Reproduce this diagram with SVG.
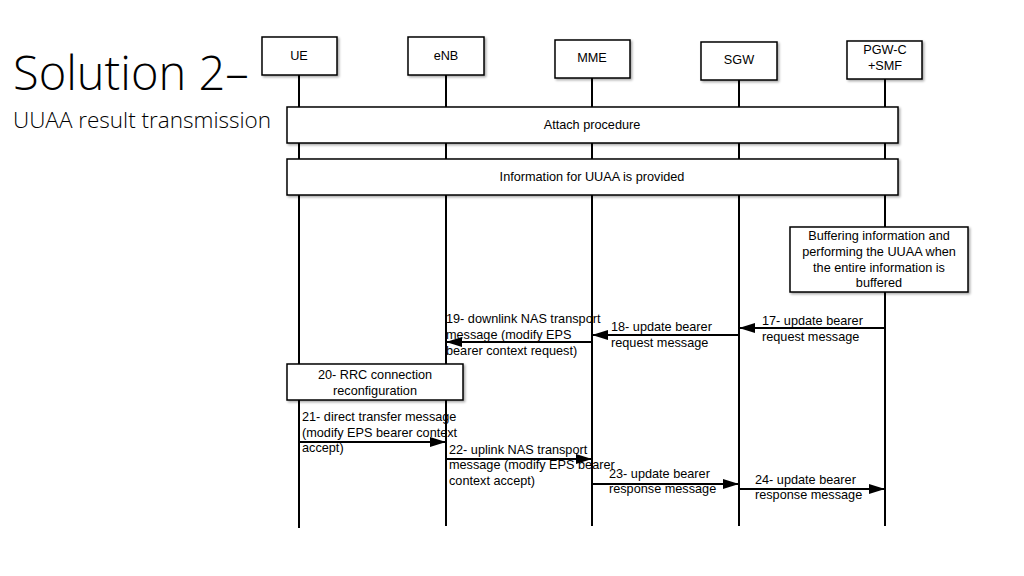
<svg xmlns="http://www.w3.org/2000/svg" width="1024" height="576" viewBox="0 0 1024 576">
<defs>
<marker id="ah" markerWidth="16" markerHeight="10" refX="15" refY="5" orient="auto" markerUnits="userSpaceOnUse"><path d="M0,0 L16,5 L0,10 Z" fill="#000"/></marker>
<filter id="sh" x="-5%" y="-5%" width="115%" height="130%"><feDropShadow dx="1.5" dy="1.5" stdDeviation="1" flood-color="#000" flood-opacity="0.35"/></filter>
</defs>
<style>
.box{fill:#fff;stroke:#000;stroke-width:1.5;filter:url(#sh)}
.life{stroke:#000;stroke-width:2}
.msg{stroke:#000;stroke-width:2;fill:none;marker-end:url(#ah)}
.t{font-family:"Liberation Sans",Arial,sans-serif;font-size:12.7px;fill:#000}
.c{text-anchor:middle}
.title{font-family:"Open Sans",Lato,sans-serif;font-weight:300;fill:#000}
</style>
<rect width="1024" height="576" fill="#fff"/>
<text class="title" x="13" y="90" font-size="47">Solution 2–</text>
<text class="title" x="13" y="128" font-size="22.5">UUAA result transmission</text>
<g id="lifelines">
<line class="life" x1="299" y1="75" x2="299" y2="528"/>
<line class="life" x1="446" y1="75" x2="446" y2="526"/>
<line class="life" x1="592" y1="78" x2="592" y2="526"/>
<line class="life" x1="739" y1="80" x2="739" y2="526"/>
<line class="life" x1="885" y1="79" x2="885" y2="526"/>
</g>
<g id="ue"><rect class="box" x="262" y="37" width="75" height="38"/><text class="t c" x="299" y="60">UE</text></g>
<g id="enb"><rect class="box" x="408" y="37" width="76" height="38"/><text class="t c" x="446" y="60">eNB</text></g>
<g id="mme"><rect class="box" x="555" y="40" width="75" height="38"/><text class="t c" x="592" y="62">MME</text></g>
<g id="sgw"><rect class="box" x="701" y="42" width="76" height="38"/><text class="t c" x="739" y="64">SGW</text></g>
<g id="pgw"><rect class="box" x="847" y="41" width="75" height="38"/><text class="t c" x="885" y="54">PGW-C</text><text class="t c" x="885" y="70">+SMF</text></g>
<g id="attach"><rect class="box" x="287" y="107" width="611" height="36"/><text class="t c" x="592" y="129">Attach procedure</text></g>
<g id="info"><rect class="box" x="287" y="159" width="611" height="36"/><text class="t c" x="592" y="181">Information for UUAA is provided</text></g>
<g id="buffering"><rect class="box" x="790" y="227" width="178" height="65"/>
<text class="t c" x="879" y="240">Buffering information and</text>
<text class="t c" x="879" y="256">performing the UUAA when</text>
<text class="t c" x="879" y="272">the entire information is</text>
<text class="t c" x="879" y="287">buffered</text></g>
<g id="rrc"><rect class="box" x="287" y="364" width="176" height="36"/>
<text class="t c" x="375" y="379">20- RRC connection</text>
<text class="t c" x="375" y="395">reconfiguration</text></g>
<g id="connectors">
<line class="msg" x1="885" y1="328" x2="740" y2="328"/>
<line class="msg" x1="739" y1="335" x2="593" y2="335"/>
<line class="msg" x1="592" y1="342" x2="447" y2="342"/>
<line class="msg" x1="299" y1="442" x2="445" y2="442"/>
<line class="msg" x1="446" y1="459" x2="591" y2="459"/>
<line class="msg" x1="592" y1="484" x2="738" y2="484"/>
<line class="msg" x1="739" y1="489" x2="884" y2="489"/>
</g>
<g id="labels">
<text class="t" x="762" y="325">17- update bearer</text>
<text class="t" x="762" y="341">request message</text>
<text class="t" x="611" y="331">18- update bearer</text>
<text class="t" x="611" y="347">request message</text>
<text class="t" x="446" y="323">19- downlink NAS transport</text>
<text class="t" x="446" y="339">message (modify EPS</text>
<text class="t" x="446" y="355">bearer context request)</text>
<text class="t" x="302" y="421">21- direct transfer message</text>
<text class="t" x="302" y="437">(modify EPS bearer context</text>
<text class="t" x="302" y="452">accept)</text>
<text class="t" x="449" y="454">22- uplink NAS transport</text>
<text class="t" x="449" y="469">message (modify EPS bearer</text>
<text class="t" x="449" y="485">context accept)</text>
<text class="t" x="609" y="478">23- update bearer</text>
<text class="t" x="609" y="493">response message</text>
<text class="t" x="755" y="484">24- update bearer</text>
<text class="t" x="755" y="499">response message</text>
</g>
</svg>
